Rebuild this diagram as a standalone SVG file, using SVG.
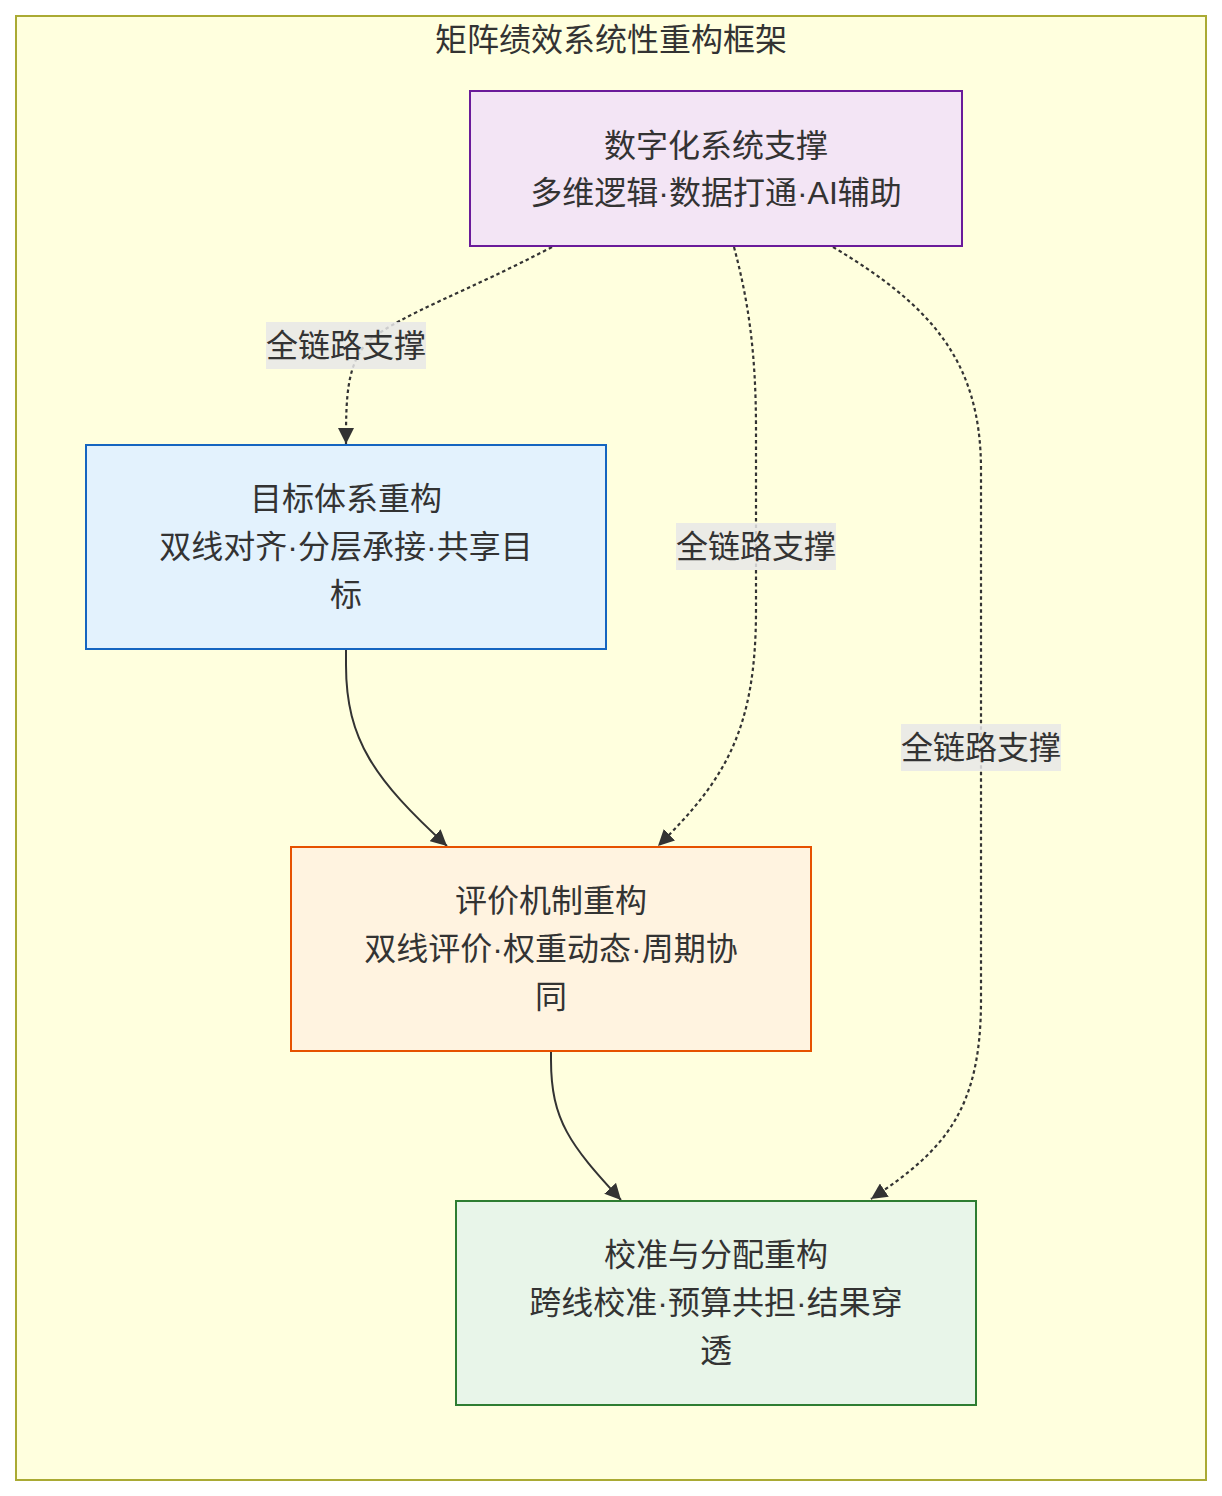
<svg xmlns="http://www.w3.org/2000/svg" width="1222" height="1496" viewBox="0 0 1222 1496">
<defs>
<style>
text{font-family:"Liberation Sans","Noto Sans CJK SC",sans-serif;font-size:32px;fill:#333;text-anchor:middle;dominant-baseline:central}
.node rect{stroke-width:2}
.edge{fill:none;stroke:#333;stroke-width:2}
.dash{stroke-dasharray:3.5 3;stroke-width:2.2}
.lbl rect{fill:#e8e8e8;opacity:0.85}
</style>
<marker id="arrow" viewBox="0 0 10 10" refX="10" refY="5" markerUnits="userSpaceOnUse" markerWidth="16" markerHeight="16" orient="auto">
<path d="M0,0 L10,5 L0,10 z" fill="#333"/>
</marker>
</defs>
<rect width="1222" height="1496" fill="#ffffff"/>
<g id="cluster">
<rect x="16" y="16" width="1190" height="1464" fill="#ffffde" stroke="#aaaa33" stroke-width="2"/>
<text x="611" y="40">矩阵绩效系统性重构框架</text>
</g>
<g id="connectors">
<path class="edge dash" d="M552,247 C470,290 400,315 370,340 C346,362 346,400 346,444" marker-end="url(#arrow)"/>
<path class="edge dash" d="M734,247 C748,300 756,350 756,430 L756,610 C756,730 725,780 658,846" marker-end="url(#arrow)"/>
<path class="edge dash" d="M833,247 C930,305 981,360 981,470 L981,1000 C981,1110 945,1150 871,1199" marker-end="url(#arrow)"/>
<path class="edge" d="M346,650 L346,665 C346,740 375,780 447,846" marker-end="url(#arrow)"/>
<path class="edge" d="M551,1052 L551,1060 C551,1120 570,1145 621,1200" marker-end="url(#arrow)"/>
<g class="lbl"><rect x="266" y="322" width="160" height="47"/><text x="346" y="346">全链路支撑</text></g>
<g class="lbl"><rect x="676" y="523" width="160" height="47"/><text x="756" y="547">全链路支撑</text></g>
<g class="lbl"><rect x="901" y="724" width="160" height="47"/><text x="981" y="748">全链路支撑</text></g>
</g>
<g id="digital" class="node">
<rect x="470" y="91" width="492" height="155" fill="#f3e5f5" stroke="#6a1b9a"/>
<text x="716" y="146">数字化系统支撑</text>
<text x="716" y="193">多维逻辑·数据打通·AI辅助</text>
</g>
<g id="goal" class="node">
<rect x="86" y="445" width="520" height="204" fill="#e3f2fd" stroke="#1565c0"/>
<text x="346" y="499">目标体系重构</text>
<text x="346" y="547">双线对齐·分层承接·共享目</text>
<text x="346" y="595">标</text>
</g>
<g id="eval" class="node">
<rect x="291" y="847" width="520" height="204" fill="#fff3e0" stroke="#e65100"/>
<text x="551" y="901">评价机制重构</text>
<text x="551" y="949">双线评价·权重动态·周期协</text>
<text x="551" y="997">同</text>
</g>
<g id="calib" class="node">
<rect x="456" y="1201" width="520" height="204" fill="#e8f5e9" stroke="#2e7d32"/>
<text x="716" y="1255">校准与分配重构</text>
<text x="716" y="1303">跨线校准·预算共担·结果穿</text>
<text x="716" y="1351">透</text>
</g>
</svg>
